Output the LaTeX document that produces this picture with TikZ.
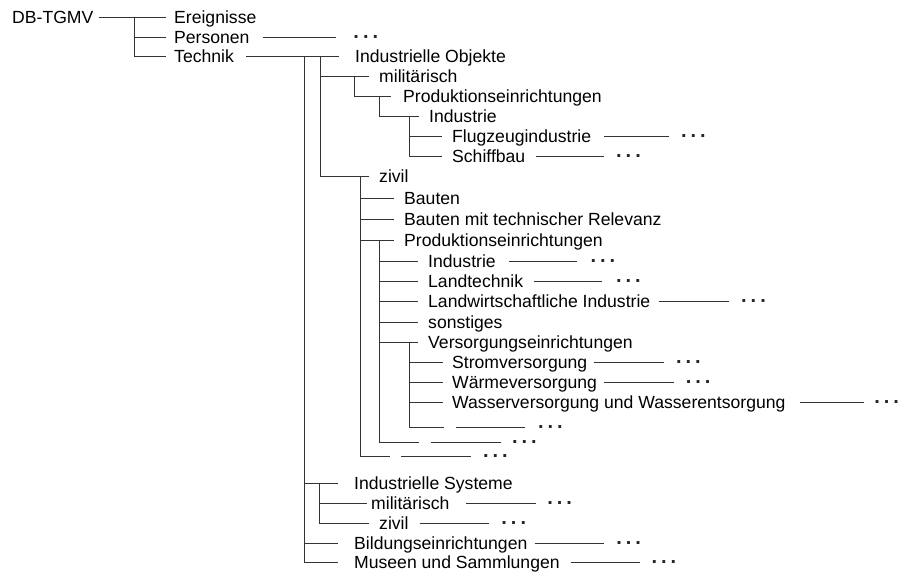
\documentclass[tikz,border=0pt]{standalone}
\usepackage{fontspec}
\setmainfont{Liberation Sans}

% #1 node, #2 gap before the line, #3 line length, #4 gap before the dots
\newcommand{\leaftail}[4]{%
  \node[dotsym] (#1d) at ([xshift=#2+#3+#4-1.5]#1.east) {.\hspace{4pt}.\hspace{4pt}.};
  \draw[tree] ([xshift=#2]#1.east) -- ([xshift=-#4+1.5]#1d.west);}

\begin{document}
\begin{tikzpicture}[x=1pt,y=-1pt,
  lbl/.style={inner sep=0pt, anchor=west, text height=12.6pt, text depth=0pt,
              font=\fontsize{17.6pt}{20pt}\selectfont},
  dotsym/.style={inner sep=0pt, anchor=west, text height=2.8pt, text depth=0pt,
              font=\fontsize{20pt}{20pt}\selectfont\bfseries, text=black!85},
  tree/.style={line width=0.9pt, draw=black!80}]
\useasboundingbox (0,0) rectangle (903,575);

% labels
\node[lbl] (root)   at (12,17)   {DB-TGMV};
\node[lbl] (ereig)  at (174,17)  {Ereignisse};
\node[lbl] (pers)   at (174,37)  {Personen};
\node[lbl] (tech)   at (174,56)  {Technik};
\node[lbl] (iobj)   at (355,56)  {Industrielle Objekte};
\node[lbl] (mil)    at (379,76)  {militärisch};
\node[lbl] (mprod)  at (403,96)  {Produktionseinrichtungen};
\node[lbl] (mind)   at (429,116) {Industrie};
\node[lbl] (flug)   at (452,136) {Flugzeugindustrie};
\node[lbl] (schiff) at (452,156) {Schiffbau};
\node[lbl] (ziv)    at (379,176) {zivil};
\node[lbl] (bau)    at (404,198) {Bauten};
\node[lbl] (baurel) at (404,219) {Bauten mit technischer Relevanz};
\node[lbl] (zprod)  at (404,240) {Produktionseinrichtungen};
\node[lbl] (zind)   at (428,261) {Industrie};
\node[lbl] (land)   at (428,281) {Landtechnik};
\node[lbl] (lwind)  at (428,301) {Landwirtschaftliche Industrie};
\node[lbl] (sonst)  at (428,322) {sonstiges};
\node[lbl] (vers)   at (428,342) {Versorgungseinrichtungen};
\node[lbl] (strom)  at (452,362) {Stromversorgung};
\node[lbl] (waerme) at (452,382) {Wärmeversorgung};
\node[lbl] (wasser) at (452,402) {Wasserversorgung und Wasserentsorgung};
\node[lbl] (vblank) at (453,427) {};
\node[lbl] (pblank) at (428,442) {};
\node[lbl] (zblank) at (398,456) {};
\node[lbl] (isys)   at (354,483) {Industrielle Systeme};
\node[lbl] (smil)   at (371,503) {militärisch};
\node[lbl] (sziv)   at (379,523) {zivil};
\node[lbl] (bild)   at (354,543) {Bildungseinrichtungen};
\node[lbl] (mus)    at (354,562) {Museen und Sammlungen};

% junctions of the vertical bars
\coordinate (j0) at (134,17);
\coordinate (jA) at (304,56);
\coordinate (jB) at (320,56);
\coordinate (jC) at (354,76);
\coordinate (jD) at (379,96);
\coordinate (jE) at (409,116);
\coordinate (jF) at (360,176);
\coordinate (jG) at (379,240);
\coordinate (jH) at (409,342);
\coordinate (jI) at (319,483);

% root
\draw[tree] ([xshift=5]root.east) -- ([xshift=-8]ereig.west);
\draw[tree] (j0) -- (j0 |- tech.west) -- ([xshift=-8]tech.west);
\draw[tree] (j0 |- pers.west) -- ([xshift=-8]pers.west);

% Technik
\draw[tree] ([xshift=12]tech.east) -- ([xshift=-16]iobj.west);
\draw[tree] (jA) -- (jA |- mus.west) -- ([xshift=-16]mus.west);
\draw[tree] (jA |- isys.west) -- ([xshift=-16]isys.west);
\draw[tree] (jA |- bild.west) -- ([xshift=-16]bild.west);

% Industrielle Objekte
\draw[tree] (jB) -- (jB |- ziv.west) -- ([xshift=-10]ziv.west);
\draw[tree] (jB |- mil.west) -- ([xshift=-10]mil.west);

% militaerisch
\draw[tree] (jC) -- (jC |- mprod.west) -- ([xshift=-12]mprod.west);
\draw[tree] (jD) -- (jD |- mind.west) -- ([xshift=-10]mind.west);
\draw[tree] (jE) -- (jE |- schiff.west) -- ([xshift=-10]schiff.west);
\draw[tree] (jE |- flug.west) -- ([xshift=-10]flug.west);

% zivil
\draw[tree] (jF) -- (jF |- zblank.west) -- ([xshift=-8]zblank.west);
\draw[tree] (jF |- bau.west) -- ([xshift=-10]bau.west);
\draw[tree] (jF |- baurel.west) -- ([xshift=-10]baurel.west);
\draw[tree] (jF |- zprod.west) -- ([xshift=-10]zprod.west);

\draw[tree] (jG) -- (jG |- pblank.west) -- ([xshift=-9]pblank.west);
\draw[tree] (jG |- zind.west) -- ([xshift=-10]zind.west);
\draw[tree] (jG |- land.west) -- ([xshift=-10]land.west);
\draw[tree] (jG |- lwind.west) -- ([xshift=-10]lwind.west);
\draw[tree] (jG |- sonst.west) -- ([xshift=-10]sonst.west);
\draw[tree] (jG |- vers.west) -- ([xshift=-10]vers.west);

\draw[tree] (jH) -- (jH |- vblank.west) -- ([xshift=-9]vblank.west);
\draw[tree] (jH |- strom.west) -- ([xshift=-9]strom.west);
\draw[tree] (jH |- waerme.west) -- ([xshift=-9]waerme.west);
\draw[tree] (jH |- wasser.west) -- ([xshift=-9]wasser.west);

% Industrielle Systeme
\draw[tree] (jI) -- (jI |- sziv.west) -- ([xshift=-10]sziv.west);
\draw[tree] (jI |- smil.west) -- ([xshift=-4]smil.west);

% continuation tails
\leaftail{pers}{13}{73}{19}
\leaftail{flug}{13}{65}{13}
\leaftail{schiff}{11}{68}{13}
\leaftail{zind}{13}{68}{15}
\leaftail{land}{11}{68}{15}
\leaftail{lwind}{9}{70}{13}
\leaftail{strom}{7}{70}{13}
\leaftail{waerme}{7}{70}{13}
\leaftail{wasser}{14}{64}{12}
\leaftail{vblank}{2}{69}{14}
\leaftail{pblank}{2}{70}{12}
\leaftail{zblank}{2}{70}{13}
\leaftail{smil}{16}{70}{13}
\leaftail{sziv}{11}{69}{14}
\leaftail{bild}{7}{69}{14}
\leaftail{mus}{11}{69}{13}
\end{tikzpicture}
\end{document}
